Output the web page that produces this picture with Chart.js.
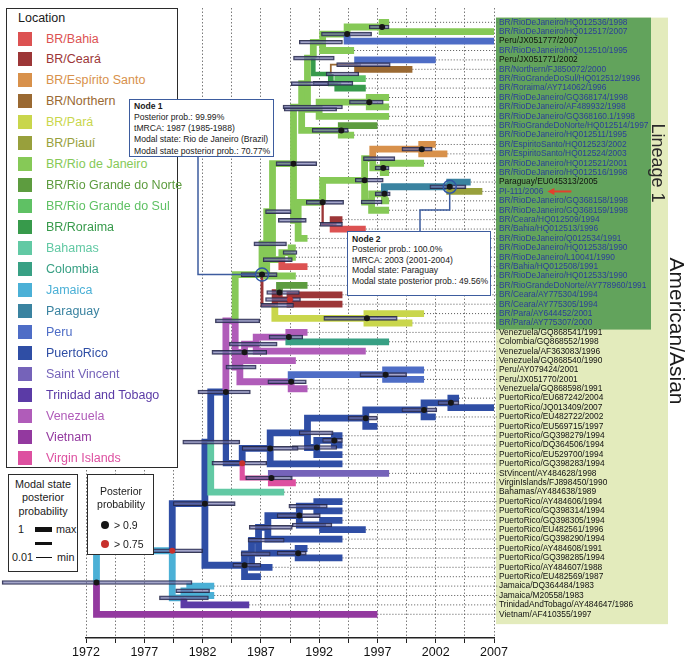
<!DOCTYPE html>
<html>
<head>
<meta charset="utf-8">
<title>DENV-2 American/Asian genotype – time-scaled phylogeny</title>
<script src="https://cdn.jsdelivr.net/npm/chart.js@4.4.1/dist/chart.umd.min.js"></script>
<style>
  html, body { margin:0; padding:0; background:#fff; }
  #wrap { position:relative; width:689px; height:659px; overflow:hidden; font-family:"Liberation Sans", Arial, Helvetica, sans-serif; }
  #chart { position:absolute; left:0; top:0; }
</style>
</head>
<body>
<div id="wrap">
  <canvas id="chart" width="689" height="659"></canvas>
</div>
<script>
const FONT = '"Liberation Sans", Arial, Helvetica, sans-serif';

/* ---------- legend categories ---------- */
const locationNames = ['BR/Bahia','BR/Ceará','BR/Espírito Santo','BR/Northern','BR/Pará','BR/Piauí','BR/Rio de Janeiro','BR/Rio Grande do Norte','BR/Rio Grande do Sul','BR/Roraima','Bahamas','Colombia','Jamaica','Paraguay','Peru','PuertoRico','Saint Vincent','Trinidad and Tobago','Venezuela','Vietnam','Virgin Islands'];
const locationCodes = ['BA','CE','ES','NO','PA','PI','RJ','RN','RS','RR','BS','CO','JM','PY','PE','PR','VC','TT','VE','VN','VI'];
const locationColors = ['#dc5252','#9c3637','#d8914b','#9a6932','#c9d64c','#98a03c','#86c957','#5d9c3f','#5fc164','#379a4b','#62c9a4','#38a084','#4bb0d6','#3a83a0','#4e6dc6','#2f4ea5','#7563b9','#5b3ba6','#b05cb9','#93399f','#dd50a0'];

/* ---------- x axis tick labels ---------- */
const yearLabels = [1972, 1977, 1982, 1987, 1992, 1997, 2002, 2007];

/* ---------- tips (top to bottom) ---------- */
const tipNames = [
'BR/RioDeJaneiro/HQ012536/1998','BR/RioDeJaneiro/HQ012517/2007','Peru/JX051777/2007','BR/RioDeJaneiro/HQ012510/1995',
'Peru/JX051771/2002','BR/Northern/FJ850072/2000','BR/RioGrandeDoSul/HQ012512/1996','BR/Roraima/AY714062/1996',
'BR/RioDeJaneiro/GQ368174/1998','BR/RioDeJaneiro/AF489932/1998','BR/RioDeJaneiro/GQ368160.1/1998','BR/RioGrandeDoNorte/HQ012514/1997',
'BR/RioDeJaneiro/HQ012511/1995','BR/EspiritoSanto/HQ012523/2002','BR/EspiritoSanto/HQ012524/2003','BR/RioDeJaneiro/HQ012521/2001',
'BR/RioDeJaneiro/HQ012516/1998','Paraguay/EU045313/2005','PI-111/2006','BR/RioDeJaneiro/GQ368158/1998',
'BR/RioDeJaneiro/GQ368159/1998','BR/Ceara/HQ012509/1994','BR/Bahia/HQ012513/1996','BR/RioDeJaneiro/Q012534/1991',
'BR/RioDeJaneiro/HQ012538/1990','BR/RioDeJaneiro/L10041/1990','BR/Bahia/HQ012508/1991','BR/RioDeJaneiro/HQ012533/1990',
'BR/RioGrandeDoNorte/AY778960/1991','BR/Ceara/AY775304/1994','BR/Ceara/AY775305/1994','BR/Para/AY644452/2001',
'BR/Para/AY775307/2000','Venezuela/GQ868541/1991','Colombia/GQ868552/1998','Venezuela/AF363083/1996',
'Venezuela/GQ868540/1990','Peru/AY079424/2001','Peru/JX051770/2001','Venezuela/GQ868598/1991',
'PuertoRico/EU687242/2004','PuertoRico/JQ013409/2007','PuertoRico/EU482722/2002','PuertoRico/EU569715/1997',
'PuertoRico/GQ398279/1994','PuertoRico/DQ364506/1994','PuertoRico/EU529700/1994','PuertoRico/GQ398283/1994',
'StVincent/AY484628/1998','VirginIslands/FJ898450/1990','Bahamas/AY484638/1989','PuertoRico/AY484606/1994',
'PuertoRico/GQ398314/1994','PuertoRico/GQ398305/1994','PuertoRico/EU482561/1996','PuertoRico/GQ398290/1994',
'PuertoRico/AY484608/1991','PuertoRico/GQ398285/1994','PuertoRico/AY484607/1988','PuertoRico/EU482569/1987',
'Jamaica/DQ364484/1983','Jamaica/M20558/1983','TrinidadAndTobago/AY484647/1986','Vietnam/AF410355/1997'];
const tipYears = [1998,2007,2007,1995,2002,2000,1996,1996,1998,1998,1998,1997,1995,2002,2003,2001,
                  1998,2005,2006,1998,1998,1994,1996,1991,1990,1990,1991,1990,1991,1994,1994,2001,
                  2000,1991,1998,1996,1990,2001,2001,1991,2004,2007,2002,1997,1994,1994,1994,1994,
                  1998,1990,1989,1994,1994,1994,1996,1994,1991,1994,1988,1987,1983,1983,1986,1997];
const tipStates = ['RJ','RJ','PE','RJ','PE','NO','RS','RR','RJ','RJ','RJ','RN','RJ','ES','ES','RJ',
                   'RJ','PY','PI','RJ','RJ','CE','BA','RJ','RJ','RJ','BA','RJ','RN','CE','CE','PA',
                   'PA','VE','CO','VE','VE','PE','PE','VE','PR','PR','PR','PR','PR','PR','PR','PR',
                   'VC','VI','BS','PR','PR','PR','PR','PR','PR','PR','PR','PR','JM','JM','TT','VN'];
const lineage1Count = 33;

/* ---------- internal nodes ---------- */
const nodeNames = ['A','B','C','E','G','F','D','H','I','X',
                   'J','M','R','S','T','N2','U','V','W','AA',
                   'Y2','Z2','L','AD','AE','AH','AG','AI','AJ','AK',
                   'AL','N1','VA','VD','VE','PE','VB','VC','P1','PA',
                   'PC','PD','PF','PG','PH','PI','PJ','PK','P2','PM',
                   'QA','QB','QC','QD','QE','QF','QX','QG','PL','RB',
                   'RC','RA','ROOT'];
const nodeChildA = ['T1','A','B','T5','T7','E','C','T9','H','D',
                    'T12','X','T14','T16','R','T18','N2','U','T','T22',
                    'W','Y2','M','T25','AD','L','AH','T30','T29','T32',
                    'AJ','AG','T34','VA','VD','T38','PE','VE','N1','T41',
                    'PA','PC','T45','PF','PD','PH','T49','PI','P1','P2',
                    'T52','T54','QA','QC','T57','QD','QF','QX','PM','T61',
                    'RB','PL','RA'];
const nodeChildB = ['T2','T3','T4','T6','T8','G','F','T10','T11','I',
                    'T13','J','T15','T17','S','T19','T20','T21','V','T23',
                    'AA','T24','Z2','T26','T27','AE','T28','T31','AI','T33',
                    'AK','AL','T35','T36','T37','T39','T40','VB','VC','T42',
                    'T43','T44','T46','T47','PG','T48','T50','PJ','PK','T51',
                    'T53','T55','QB','T56','T58','QE','T59','T60','QG','T62',
                    'T63','RC','T64'];
const nodeYears = [1997.4,1994.4,1992.3,1995.3,1993.6,1993.0,1991.5,1996.3,1992.0,1991.0,
                   1993.9,1990.5,2000.8,1997.5,1996.6,2003.2,1997.6,1996.5,1995.9,1993.2,
                   1992.3,1990.2,1989.8,1989.6,1988.8,1988.0,1987.5,1989.5,1988.6,1996.1,
                   1988.2,1987.1,1989.4,1986.6,1985.6,1997.7,1989.6,1985.2,1984.8,2003.3,
                   2001.0,1996.0,1993.3,1991.8,1991.0,1987.8,1987.9,1985.4,1984.0,1982.7,
                   1991.8,1992.3,1990.3,1987.6,1990.2,1986.8,1986.2,1985.6,1982.2,1980.9,
                   1980.4,1979.4,1972.9];
const nodeStates = ['RJ','RJ','RJ','NO','RR','RR','RJ','RJ','RJ','RJ',
                    'RJ','RJ','ES','RJ','RJ','PY','RJ','RJ','RJ','CE',
                    'RJ','RJ','RJ','RJ','RJ','RJ','RJ','CE','CE','PA',
                    'CE','RJ','VE','VE','VE','PE','VE','VE','VE','PR',
                    'PR','PR','PR','PR','PR','PR','VI','PR','PR','PR',
                    'PR','PR','PR','PR','PR','PR','PR','PR','PR','JM',
                    'JM','JM','JM'];
const nodeModalProb = [1,1,1,0.1,0.8,0.6,1,1,1,1,
                       1,1,1,1,1,1,1,1,1,0.2,
                       1,1,1,1,1,1,1,0.9,0.9,1,
                       0.3,1,1,1,1,1,1,1,1,1,
                       1,1,1,1,1,1,0.7,0.9,1,1,
                       1,1,1,1,1,1,1,1,1,1,
                       1,1,1];
const nodePosterior = [2,2,0,0,0,0,0,2,0,0,
                       2,0,2,2,0,2,2,0,2,0,
                       2,0,2,0,0,0,0,1,2,2,
                       0,2,2,0,2,2,2,0,0,2,
                       2,2,2,2,0,2,2,1,2,0,
                       0,0,2,0,2,0,0,2,2,0,
                       0,1,2];
const hpdLow = [1996.3,1992.2,1990.3,1993.5,1991.5,1992.6,1989.8,1994.6,1989.0,1989.6,
                1991.4,1988.9,1999.1,1996.8,1995.8,2001.5,1996.8,1995.6,1995.1,1992.1,
                1990.9,1988.5,1988.3,1988.9,1987.2,1987.4,1986.4,1987.4,1987.5,1992.4,
                1987.0,1985.3,1987.7,1984.3,1982.8,1995.5,1987.6,1984.0,1983.1,2002.2,
                1999.1,1994.5,1992.3,1989.7,1990.3,1985.4,1985.7,1982.8,1981.6,1980.3,
                1989.4,1989.7,1988.4,1986.0,1988.4,1985.9,1985.3,1984.6,1979.5,1979.7,
                1978.3,1976.1,1964.8];
const hpdHigh = [1998.0,1996.5,1994.0,1998.1,1994.9,1995.4,1993.3,1997.5,1993.5,1992.8,
                 1994.5,1994.0,2001.7,1998.0,1998.5,2004.6,1998.1,1997.4,1997.5,1994.0,
                 1994.1,1990.9,1991.8,1990.1,1989.7,1989.6,1989.2,1990.4,1990.3,1998.7,
                 1989.8,1988.4,1990.6,1988.4,1987.5,1999.5,1990.9,1986.6,1986.9,2004.0,
                 2002.1,1997.0,1994.0,1993.5,1993.2,1990.2,1989.7,1987.5,1986.1,1985.2,
                 1992.7,1993.1,1992.1,1989.7,1990.9,1989.0,1987.8,1987.0,1984.8,1982.6,
                 1982.5,1982.0,1981.1];

/* ---------- annotated nodes ---------- */
const highlightNodes = ['N1','N2'];
const node1Text = ['Node 1','Posterior prob.: 99.99%','tMRCA: 1987 (1985-1988)','Modal state: Rio de Janeiro (Brazil)','Modal state posterior prob.: 70.77%'];
const node2Text = ['Node 2','Posterior prob.: 100.0%','tMRCA: 2003 (2001-2004)','Modal state: Paraguay','Modal state posterior prob.: 49.56%'];
const arrowTip = 'PI-111/2006';

/* ---------- build tree geometry (data coordinates) ---------- */
const info = {};
tipNames.forEach((n, i) => { info['T' + (i + 1)] = { year: tipYears[i], y: i + 1, state: tipStates[i], prob: 1 }; });
nodeNames.forEach((n, i) => { info[n] = { year: nodeYears[i], state: nodeStates[i], prob: nodeModalProb[i], a: nodeChildA[i], b: nodeChildB[i] }; });
function yOf(id) { const o = info[id]; if (o.y === undefined) o.y = (yOf(o.a) + yOf(o.b)) / 2; return o.y; }
nodeNames.forEach(yOf);
const parentOf = {};
nodeNames.forEach(n => { parentOf[info[n].a] = n; parentOf[info[n].b] = n; });
const colorOf = code => locationColors[locationCodes.indexOf(code)];

const branchSets = Object.keys(parentOf).map(id => {
  const c = info[id], p = info[parentOf[id]];
  return {
    type: 'scatter', showLine: true, xAxisID: 'x', yAxisID: 'y', order: 3, clip: false,
    data: [{ x: p.year, y: p.y }, { x: p.year, y: c.y }, { x: c.year, y: c.y }],
    borderColor: colorOf(c.state), borderWidth: 1.2 + 5.6 * c.prob,
    borderJoinStyle: 'miter', borderCapStyle: 'butt', pointRadius: 0, tension: 0, fill: false
  };
});

const leaderData = [];
tipYears.forEach((yr, i) => { if (yr < 2007) leaderData.push({ x: yr, y: i + 1 }, { x: 2007.3, y: i + 1 }, { x: 2007.3, y: null }); });

const dotData = [], dotColors = [];
nodeNames.forEach((n, i) => {
  if (nodePosterior[i] > 0) { dotData.push({ x: nodeYears[i], y: info[n].y }); dotColors.push(nodePosterior[i] === 2 ? '#161616' : '#c7302c'); }
});

const datasets = [
  { type: 'scatter', xAxisID: 'x', yAxisID: 'y', order: 0, clip: false,
    data: highlightNodes.map(n => ({ x: info[n].year, y: info[n].y })),
    pointRadius: 6.5, pointBackgroundColor: 'rgba(0,0,0,0)', pointBorderColor: '#2f57a5', pointBorderWidth: 1.5 },
  { type: 'scatter', xAxisID: 'x', yAxisID: 'y', order: 0, clip: false,
    data: dotData, pointRadius: 3, pointBackgroundColor: dotColors, pointBorderColor: dotColors, pointBorderWidth: 0 },
  { type: 'bar', indexAxis: 'y', xAxisID: 'x', yAxisID: 'y', order: 1, clip: false, grouped: false,
    data: nodeNames.map((n, i) => ({ x: [hpdLow[i], hpdHigh[i]], y: info[n].y })),
    backgroundColor: 'rgba(108,112,168,0.62)', borderColor: 'rgba(35,38,70,0.9)', borderWidth: 1,
    borderSkipped: false, barThickness: 4 },
  ...branchSets,
  { type: 'scatter', showLine: true, xAxisID: 'x', yAxisID: 'y', order: 4, clip: false,
    data: leaderData, borderColor: '#555', borderWidth: 1, borderDash: [1, 2], pointRadius: 0, spanGaps: false }
];

/* ---------- canvas decorations ---------- */
const decor = {
  id: 'decor',
  beforeDraw(chart) {
    const { ctx, scales: { y } } = chart;
    ctx.save();
    ctx.fillStyle = '#e3ebbc';
    ctx.fillRect(496, y.getPixelForValue(0.5), 172, y.getPixelForValue(tipNames.length + 1.05) - y.getPixelForValue(0.5));
    ctx.fillStyle = '#62a35c';
    ctx.fillRect(496, y.getPixelForValue(0.5), 155, y.getPixelForValue(lineage1Count + 0.7) - y.getPixelForValue(0.5));
    ctx.restore();
  },
  afterDraw(chart) {
    const { ctx, scales: { x, y } } = chart;
    const n1 = info.N1, n2 = info.N2;
    const p1 = { x: x.getPixelForValue(n1.year), y: y.getPixelForValue(n1.y) };
    const p2 = { x: x.getPixelForValue(n2.year), y: y.getPixelForValue(n2.y) };
    ctx.save();
    ctx.strokeStyle = '#3d5c9e'; ctx.lineWidth = 1.5;
    ctx.beginPath(); ctx.moveTo(198, 156); ctx.lineTo(198, p1.y); ctx.lineTo(p1.x - 7, p1.y); ctx.stroke();
    ctx.beginPath(); ctx.moveTo(420, 231); ctx.lineTo(420, 210); ctx.lineTo(p2.x, 210); ctx.lineTo(p2.x, p2.y + 7); ctx.stroke();
    // red arrow pointing at the highlighted tip label
    const ti = tipNames.indexOf(arrowTip);
    const ly = y.getPixelForValue(ti + 1);
    ctx.font = '8.4px ' + FONT;
    const x0 = chart.chartArea.right + 5 + ctx.measureText(arrowTip).width + 4;
    ctx.strokeStyle = '#e2412c'; ctx.fillStyle = '#e2412c'; ctx.lineWidth = 2;
    ctx.beginPath(); ctx.moveTo(x0 + 5, ly); ctx.lineTo(x0 + 24, ly); ctx.stroke();
    ctx.beginPath(); ctx.moveTo(x0, ly); ctx.lineTo(x0 + 7, ly - 3.5); ctx.lineTo(x0 + 7, ly + 3.5); ctx.closePath(); ctx.fill();
    ctx.restore();
  }
};

new Chart(document.getElementById('chart'), {
  type: 'scatter',
  data: { datasets },
  options: {
    responsive: false, animation: false, events: [],
    layout: { padding: { left: 86, top: 0, right: 0, bottom: 0 } },
    plugins: { legend: { display: false }, tooltip: { enabled: false } },
    scales: {
      x: {
        type: 'linear', position: 'bottom', min: 1972, max: 2007,
        ticks: { stepSize: 2.5, autoSkip: false, maxRotation: 0, padding: 2, color: '#111',
                 font: { size: 12.5, family: FONT },
                 callback: v => yearLabels.includes(v) ? String(v) : '' },
        grid: { drawOnChartArea: false, drawTicks: true, tickLength: 5, color: '#222', tickColor: '#222', lineWidth: 1 },
        border: { display: true, color: '#222', width: 1.5 },
        afterFit: s => { s.height = 21; s.paddingLeft = 0; s.paddingRight = 0; }
      },
      xg: {
        type: 'linear', position: 'bottom', min: 1972, max: 2007,
        ticks: { display: false, stepSize: 2.5 },
        grid: { drawOnChartArea: true, drawTicks: false, color: '#7a7a7a', lineWidth: 1 },
        border: { display: false, dash: [1.5, 2] },
        afterFit: s => { s.height = 0; s.paddingLeft = 0; s.paddingRight = 0; }
      },
      y: {
        type: 'linear', position: 'right', reverse: true, min: 0, max: 66,
        afterBuildTicks: s => { s.ticks = tipNames.map((n, i) => ({ value: i + 1 })); },
        ticks: {
          autoSkip: false, padding: 5, font: { size: 8.4, family: FONT },
          callback: v => tipNames[v - 1] || '',
          color: c => {
            const i = c.tick.value - 1, n = tipNames[i] || '';
            return (i < lineage1Count && !/^(Peru|Paraguay)/.test(n)) ? '#2b3f98' : '#111';
          }
        },
        grid: { display: false, drawTicks: false },
        border: { display: false },
        afterFit: s => { s.width = 195; s.paddingTop = 0; s.paddingBottom = 0; }
      }
    }
  },
  plugins: [decor]
});

/* ---------- HTML overlays: legends, node boxes, clade labels ---------- */
const wrap = document.getElementById('wrap');
function el(css, text) {
  const d = document.createElement('div');
  d.style.cssText = 'position:absolute;white-space:nowrap;line-height:1;' + css;
  if (text != null) d.textContent = text;
  wrap.appendChild(d);
  return d;
}
// Location legend
el('left:6px;top:8px;width:172px;height:460px;border:1.5px solid #2b2b2b;box-sizing:border-box;background:#fff;');
el('left:18px;top:18px;transform:translateY(-50%);font-size:12.5px;color:#1a1a1a;', 'Location');
locationNames.forEach((name, i) => {
  const cy = 38.5 + i * 20.97;
  el(`left:18px;top:${cy - 7}px;width:14px;height:14px;background:${locationColors[i]};`);
  el(`left:46px;top:${cy}px;transform:translateY(-50%);font-size:12.5px;color:${locationColors[i]};`, name);
});
// Modal state posterior probability legend
el('left:8px;top:474px;width:70px;height:98px;border:1.5px solid #2b2b2b;box-sizing:border-box;background:#fff;');
['Modal state', 'posterior', 'probability'].forEach((t, i) =>
  el(`left:43px;top:${484 + i * 13.3}px;transform:translate(-50%,-50%);font-size:10.8px;color:#1a1a1a;`, t));
el('left:21px;top:529px;transform:translate(-50%,-50%);font-size:10.8px;color:#1a1a1a;', '1');
el('left:35px;top:526.5px;width:17px;height:5px;background:#111;');
el('left:56px;top:529px;transform:translateY(-50%);font-size:10.8px;color:#1a1a1a;', 'max');
el('left:35px;top:541.5px;width:17px;height:3px;background:#111;');
el('left:12px;top:557px;transform:translateY(-50%);font-size:10.8px;color:#1a1a1a;', '0.01');
el('left:36px;top:556.5px;width:16px;height:1px;background:#111;');
el('left:57px;top:557px;transform:translateY(-50%);font-size:10.8px;color:#1a1a1a;', 'min');
// Posterior probability legend
el('left:87px;top:474px;width:67px;height:81px;border:1.5px solid #2b2b2b;box-sizing:border-box;background:#fff;');
el('left:121px;top:491px;transform:translate(-50%,-50%);font-size:10.5px;color:#1a1a1a;', 'Posterior');
el('left:121px;top:504px;transform:translate(-50%,-50%);font-size:10.5px;color:#1a1a1a;', 'probability');
el('left:101px;top:521px;width:8px;height:8px;border-radius:50%;background:#161616;');
el('left:114px;top:525px;transform:translateY(-50%);font-size:10.5px;color:#1a1a1a;', '> 0.9');
el('left:101px;top:540px;width:8px;height:8px;border-radius:50%;background:#c7302c;');
el('left:114px;top:544px;transform:translateY(-50%);font-size:10.5px;color:#1a1a1a;', '> 0.75');
// Node annotation boxes
function nodeBox(left, top, w, h, lines, firstY, step) {
  el(`left:${left}px;top:${top}px;width:${w}px;height:${h}px;border:1.5px solid #3d5c9e;box-sizing:border-box;background:#fff;`);
  lines.forEach((t, i) => el(`left:${left + 5}px;top:${firstY + i * step}px;transform:translateY(-50%);font-size:8.6px;color:#1a1a1a;${i === 0 ? 'font-weight:bold;' : ''}`, t));
}
nodeBox(129, 99, 145, 58, node1Text, 105.5, 11.3);
nodeBox(347, 231, 144, 65, node2Text, 238.5, 10.6);
// Clade labels
el('left:658px;top:163px;transform:translate(-50%,-50%) rotate(90deg);font-size:18px;color:#2a2a2a;', 'Lineage 1');
el('left:677px;top:331px;transform:translate(-50%,-50%) rotate(90deg);font-size:21px;color:#1a1a1a;', 'American/Asian');
</script>
</body>
</html>
